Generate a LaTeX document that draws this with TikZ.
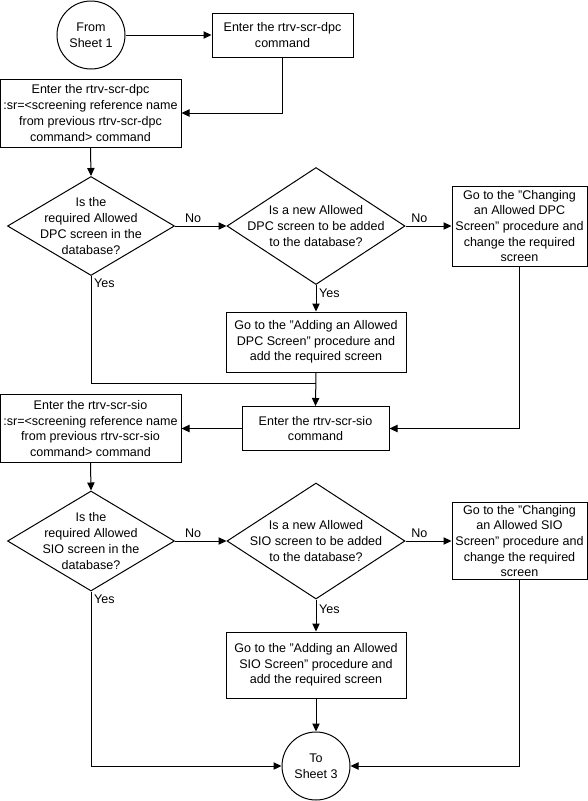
\documentclass[tikz,border=0pt]{standalone}
\usepackage{fontspec}
\setmainfont{Liberation Sans}
\usepackage{tikz}
\usetikzlibrary{shapes.geometric,arrows.meta}

\newcommand{\flowfont}{\fontsize{9.4}{11.8}\selectfont}

\tikzset{
  box/.style 2 args={draw,rectangle,align=center,inner sep=0pt,font=\flowfont,
    minimum width=#1*0.75pt,minimum height=#2*0.75pt},
  dec/.style 2 args={draw,diamond,inner sep=0pt,
    minimum width=#1*0.75pt,minimum height=#2*0.75pt},
  dtext/.style={align=center,font=\flowfont,inner sep=0pt},
  sheet/.style={draw,circle,align=center,inner sep=0pt,font=\flowfont,minimum size=51pt},
  lab/.style={font=\flowfont,inner sep=2pt},
  arr/.style={-{Triangle[length=6pt,width=5.5pt]}}
}

\begin{document}
\begin{tikzpicture}[x=0.75pt,y=-0.75pt,line width=0.75pt]
  \useasboundingbox (0,0) rectangle (587,801);

  %first part: DPC
  \node[sheet] (from1) at (91,35) {From\\Sheet 1};
  \node[box={141}{44}] (dpccmd) at (282.5,35) {Enter the rtrv-scr-dpc\\command};
  \node[box={181}{68}] (dpcsr) at (90.5,113) {Enter the rtrv-scr-dpc\\:sr=<screening reference name\\from previous rtrv-scr-dpc\\command> command};
  \node[dec={167}{99},label={[dtext]center:Is the\\required Allowed\\DPC screen in the\\database?}] (dpcin) at (91,226) {};
  \node[dec={178}{117},label={[dtext]center:Is a new Allowed\\DPC screen to be added\\to the database?}] (dpcnew) at (316,226) {};
  \node[box={135}{80}] (dpcchg) at (519.5,226) {Go to the "Changing\\an Allowed DPC\\Screen" procedure and\\change the required\\screen};
  \node[box={180}{60}] (dpcadd) at (316,342) {Go to the "Adding an Allowed\\DPC Screen" procedure and\\add the required screen};
  \coordinate (dpcjoin) at (316,383);

  %second part: SIO
  \node[box={147}{44}] (siocmd) at (315.5,428.5) {Enter the rtrv-scr-sio\\command};
  \node[box={181}{68}] (siosr) at (90.5,428.5) {Enter the rtrv-scr-sio\\:sr=<screening reference name\\from previous rtrv-scr-sio\\command> command};
  \node[dec={167}{100},label={[dtext]center:Is the\\required Allowed\\SIO screen in the\\database?}] (sioin) at (91,541) {};
  \node[dec={178}{116},label={[dtext]center:Is a new Allowed\\SIO screen to be added\\to the database?}] (sionew) at (316,541) {};
  \node[box={135}{77}] (siochg) at (519.5,541) {Go to the "Changing\\an Allowed SIO\\Screen" procedure and\\change the required\\screen};
  \node[box={180}{66}] (sioadd) at (316,665) {Go to the "Adding an Allowed\\SIO Screen" procedure and\\add the required screen};
  \node[sheet] (to3) at (316,766) {To\\Sheet 3};

  %connectors
  \draw[arr] (from1) -- (dpccmd);
  \draw[arr] (dpccmd.south) |- (dpcsr.east);
  \draw[arr] (dpcsr.south) -- (dpcin.north);
  \draw[arr] (dpcin.east) -- node[lab,above,pos=0.35] (no1) {No} (dpcnew.west);
  \draw[arr] (dpcnew.east) -- node[lab,above,pos=0.3] (no2) {No} (dpcchg.west);
  \draw[arr] (dpcnew.south) -- node[lab,right,pos=0.3] (yes2) {Yes} (dpcadd.north);
  \draw (dpcin.south) |- node[lab,below right,pos=0] (yes1) {Yes} (dpcjoin);
  \draw[arr] (dpcadd.south) -- (siocmd.north);
  \draw[arr] (dpcchg.south) |- (siocmd.east);
  \draw[arr] (siocmd.west) -- (siosr.east);
  \draw[arr] (siosr.south) -- (sioin.north);
  \draw[arr] (sioin.east) -- node[lab,above,pos=0.35] (no3) {No} (sionew.west);
  \draw[arr] (sionew.east) -- node[lab,above,pos=0.3] (no4) {No} (siochg.west);
  \draw[arr] (sionew.south) -- node[lab,right,pos=0.3] (yes4) {Yes} (sioadd.north);
  \draw[arr] (sioadd.south) -- (to3.north);
  \draw[arr] (sioin.south) |- node[lab,below right,pos=0] (yes3) {Yes} (to3.west);
  \draw[arr] (siochg.south) |- (to3.east);

\end{tikzpicture}
\end{document}
